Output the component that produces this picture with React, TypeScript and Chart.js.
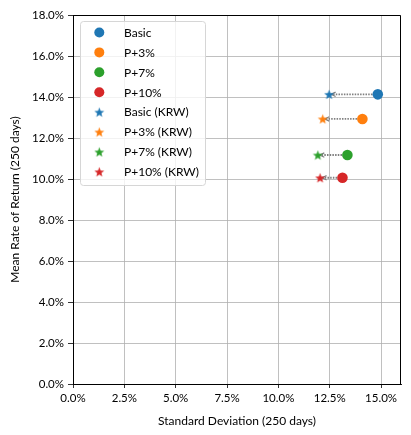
import React, { useEffect, useRef } from 'react';
import { Chart, registerables } from 'chart.js';

Chart.register(...registerables);

// strategies, risk (std dev %) and mean return (%)
const strategies = ['Basic', 'P+3%', 'P+7%', 'P+10%'];
const colors = ['#1f77b4', '#ff7f0e', '#2ca02c', '#d62728'];
const stdDev = [14.84, 14.09, 13.36, 13.12];
const meanReturn = [14.13, 12.93, 11.17, 10.06];
const stdDevKrw = [12.47, 12.16, 11.92, 12.03];
const meanReturnKrw = [14.13, 12.93, 11.17, 10.06];

const yTicks = [0, 2, 4, 6, 8, 10, 12, 14, 16, 18];
const xTicks = [0, 2.5, 5, 7.5, 10, 12.5, 15];

const FONT = "Lato, 'Open Sans', sans-serif";

// filled five point star as an image for pointStyle
const makeStar = (color: string, size: number) => {
  const c = document.createElement('canvas');
  c.width = size;
  c.height = size;
  const g = c.getContext('2d')!;
  const cx = size / 2, cy = size / 2 + 0.5;
  const ro = size / 2 - 0.3, ri = ro * 0.42;
  g.beginPath();
  for (let i = 0; i < 10; i++) {
    const r = i % 2 === 0 ? ro : ri;
    const a = -Math.PI / 2 + (i * Math.PI) / 5;
    const px = cx + r * Math.cos(a), py = cy + r * Math.sin(a);
    if (i === 0) g.moveTo(px, py); else g.lineTo(px, py);
  }
  g.closePath();
  g.fillStyle = color;
  g.fill();
  return c;
};

const App = () => {
  const chartRef = useRef<HTMLCanvasElement>(null);
  const chartInstance = useRef<Chart | null>(null);

  useEffect(() => {
    if (!chartRef.current) return;
    if (chartInstance.current) chartInstance.current.destroy();
    const ctx = chartRef.current.getContext('2d');
    if (!ctx) return;

    const starsPlot = colors.map(c => makeStar(c, 11));
    const starsLegend = colors.map(c => makeStar(c, 11));

    const circleSets = strategies.map((s, i) => ({
      label: s,
      data: [{ x: stdDev[i], y: meanReturn[i] }],
      backgroundColor: colors[i],
      borderColor: colors[i],
      borderWidth: 0,
      pointRadius: 5.3,
      pointStyle: 'circle' as const,
    }));
    const starSets = strategies.map((s, i) => ({
      label: `${s} (KRW)`,
      data: [{ x: stdDevKrw[i], y: meanReturnKrw[i] }],
      backgroundColor: colors[i],
      borderColor: colors[i],
      pointRadius: 5.5,
      pointStyle: starsPlot[i] as any,
    }));

    chartInstance.current = new Chart(ctx, {
      type: 'scatter',
      data: { datasets: [...circleSets, ...starSets] },
      options: {
        responsive: false,
        animation: false,
        devicePixelRatio: window.devicePixelRatio,
        layout: { padding: { top: 15, right: 10, left: 0, bottom: 0 } },
        plugins: {
          legend: { display: false },
          tooltip: { enabled: false },
        },
        scales: {
          x: {
            type: 'linear',
            min: 0,
            max: 15.97,
            afterBuildTicks: (scale: any) => {
              scale.ticks = xTicks.map(v => ({ value: v }));
            },
            afterFit: (scale: any) => { scale.height = 51; },
            grid: { color: '#b0b0b0', lineWidth: 0.8, tickLength: 4, tickColor: '#000' },
            border: { color: '#000', width: 1 },
            ticks: {
              color: '#000',
              padding: 3,
              maxRotation: 0,
              font: { family: FONT, size: 11.5 },
              callback: (v: any) => Number(v).toFixed(1) + '%',
            },
            title: {
              display: true,
              text: 'Standard Deviation (250 days)',
              color: '#000',
              font: { family: FONT, size: 12 },
              padding: { top: 2, bottom: 7 },
            },
          },
          y: {
            type: 'linear',
            min: 0,
            max: 18,
            afterBuildTicks: (scale: any) => {
              scale.ticks = yTicks.map(v => ({ value: v }));
            },
            afterFit: (scale: any) => { scale.width = 73; },
            grid: { color: '#b0b0b0', lineWidth: 0.8, tickLength: 5, tickColor: '#000' },
            border: { color: '#000', width: 1 },
            ticks: {
              color: '#000',
              padding: 4,
              font: { family: FONT, size: 11.5 },
              callback: (v: any) => Number(v).toFixed(1) + '%',
            },
            title: {
              display: true,
              text: 'Mean Rate of Return (250 days)',
              color: '#000',
              font: { family: FONT, size: 12 },
              padding: { top: 8, bottom: 2 },
            },
          },
        },
      },
      plugins: [
        {
          id: 'frameAndArrows',
          beforeDatasetsDraw: (chart: any) => {
            const c = chart.ctx;
            const xs = chart.scales.x, ys = chart.scales.y;
            c.save();
            strategies.forEach((_, i) => {
              const x0 = xs.getPixelForValue(stdDev[i]);
              const y0 = ys.getPixelForValue(meanReturn[i]);
              const x1 = xs.getPixelForValue(stdDevKrw[i]);
              const y1 = ys.getPixelForValue(meanReturnKrw[i]);
              const ang = Math.atan2(y1 - y0, x1 - x0);
              const ex = x1 - Math.cos(ang) * 2, ey = y1 - Math.sin(ang) * 2;
              c.strokeStyle = '#808080';
              c.lineWidth = 1.8;
              c.setLineDash([1.5, 1.2]);
              c.beginPath();
              c.moveTo(x0, y0);
              c.lineTo(ex, ey);
              c.stroke();
              c.setLineDash([]);
              c.lineWidth = 1.2;
              c.beginPath();
              c.moveTo(ex - Math.cos(ang - 0.45) * 5, ey - Math.sin(ang - 0.45) * 5);
              c.lineTo(ex, ey);
              c.lineTo(ex - Math.cos(ang + 0.45) * 5, ey - Math.sin(ang + 0.45) * 5);
              c.stroke();
            });
            c.restore();
          },
          afterDraw: (chart: any) => {
            const c = chart.ctx;
            const a = chart.chartArea;
            c.save();
            // top and right spines
            c.strokeStyle = '#000';
            c.lineWidth = 1;
            c.beginPath();
            c.moveTo(a.left, a.top + 0.5);
            c.lineTo(a.right - 0.5, a.top + 0.5);
            c.lineTo(a.right - 0.5, a.bottom);
            c.stroke();

            // legend box in upper left
            const bx = a.left + 7.5, by = a.top + 6.5, bw = 125, bh = 164;
            c.fillStyle = 'rgba(255,255,255,0.8)';
            c.strokeStyle = '#d6d6d6';
            c.lineWidth = 1;
            c.beginPath();
            (c as any).roundRect(bx, by, bw, bh, 3);
            c.fill();
            c.stroke();

            c.font = `12px ${FONT}`;
            c.textBaseline = 'middle';
            c.textAlign = 'left';
            const ds = chart.data.datasets;
            ds.forEach((d: any, k: number) => {
              const ry = a.top + 17.5 + k * 19.9;
              const mx = a.left + 26.3;
              const ci = k % 4;
              if (k < 4) {
                c.fillStyle = colors[ci];
                c.beginPath();
                c.arc(mx, ry, 5, 0, Math.PI * 2);
                c.fill();
              } else {
                c.drawImage(starsLegend[ci], mx - 5.5, ry - 5.5);
              }
              c.fillStyle = '#000';
              c.fillText(d.label, a.left + 51, ry + 0.5);
            });
            c.restore();
          },
        },
      ],
    });

    return () => {
      if (chartInstance.current) chartInstance.current.destroy();
    };
  }, []);

  return (
    <div style={{ margin: -8, width: 411, height: 435, background: '#fff' }}>
      <canvas ref={chartRef} width={411} height={435} style={{ width: 411, height: 435, display: 'block' }}></canvas>
    </div>
  );
};

export default App;
